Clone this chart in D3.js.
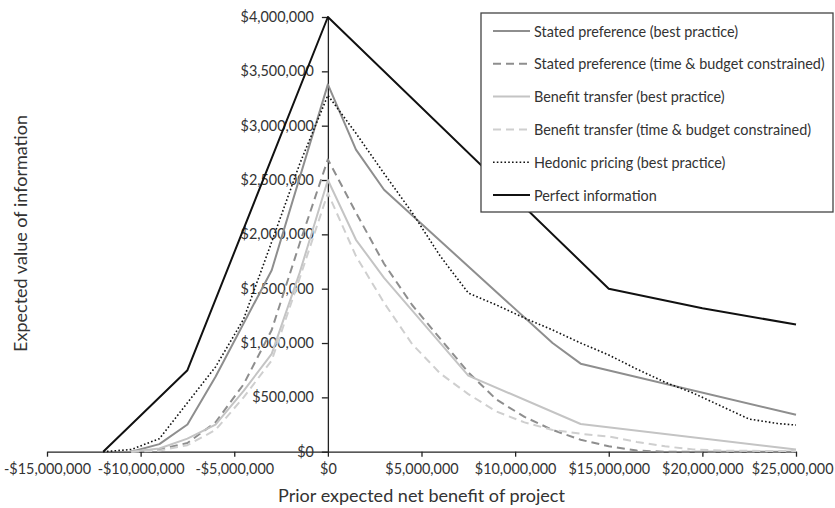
<!DOCTYPE html>
<html>
<head>
<meta charset="utf-8">
<script src="https://cdn.jsdelivr.net/npm/d3@7"></script>
<style>
  body { margin: 0; background: #fff; }
  svg text { font-family: Lato, "Open Sans", sans-serif; fill: #333; }
</style>
</head>
<body>
<div id="canvas"></div>
<script>
"use strict";

/* ---------- size and plot box ---------- */
let svgWidth = 835;
let svgHeight = 508;

let plotLeft = 47;
let plotRight = 796;
let plotTop = 17;
let plotBottom = 451.7;

/* ---------- data (values in $ millions) ---------- */
let xTicks = [-15, -10, -5, 0, 5, 10, 15, 20, 25];
let yTicks = [0, 0.5, 1, 1.5, 2, 2.5, 3, 3.5, 4];

let statedBest = [[-10.5,0],[-9,0.07],[-7.5,0.25],[-6,0.69],[-3,1.67],[0,3.38],
    [1.5,2.78],[3,2.41],[12,1.0],[13.5,0.81],[25,0.34]];

let statedConstrained = [[-10.5,0],[-9,0.02],[-7.5,0.08],[-6,0.27],[-4.5,0.62],[-3,1.12],
    [-1.5,1.92],[0,2.69],[1.5,2.2],[3,1.73],[4.5,1.35],[6,1.04],[7.5,0.73],[9,0.48],
    [10.5,0.32],[12,0.2],[13.5,0.11],[15,0.05],[16.5,0.01],[18,0],[25,0]];

let transferBest = [[-10.5,0],[-9,0.03],[-7.5,0.12],[-6,0.25],[-4.5,0.56],[-3,0.9],
    [-1.5,1.65],[0,2.5],[1.5,1.95],[3,1.6],[7.5,0.7],[13.5,0.255],[25,0.02]];

let transferConstrained = [[-10.5,0],[-9,0.01],[-7.5,0.06],[-6,0.2],[-4.5,0.5],[-3,0.84],
    [-1.5,1.6],[0,2.38],[1.5,1.8],[3,1.37],[4.5,0.99],[6,0.72],[7.5,0.53],[9,0.37],
    [10.5,0.27],[12,0.2],[13.5,0.165],[15,0.14],[16.5,0.09],[18,0.05],[19.5,0.02],
    [21,0.01],[25,0.005]];

let hedonic = [[-12,0],[-10.5,0.02],[-9,0.12],[-7.5,0.45],[-6,0.78],[-4.5,1.22],[-3,1.93],
    [-1.5,2.65],[0,3.28],[1.5,2.93],[3,2.56],[4.5,2.2],[6,1.8],[7.5,1.46],[9,1.35],
    [10.5,1.23],[12,1.12],[13.5,1.0],[15,0.89],[16.5,0.76],[18,0.64],[19.5,0.54],
    [21,0.42],[22.5,0.3],[24,0.26],[25,0.245]];

let perfectInfo = [[-12,0],[-7.5,0.75],[0,4.0],[15,1.5],[20,1.32],[25,1.17]];

let seriesNames = [
    "Stated preference (best practice)",
    "Stated preference (time & budget constrained)",
    "Benefit transfer (best practice)",
    "Benefit transfer (time & budget constrained)",
    "Hedonic pricing (best practice)",
    "Perfect information"
];

/* line styles, same order as names */
let styles = [
    {color: "#8e8e8e", width: 2, dash: null},
    {color: "#8e8e8e", width: 2, dash: "8,5"},
    {color: "#c4c4c4", width: 2, dash: null},
    {color: "#cfcfcf", width: 2, dash: "8,5"},
    {color: "#111111", width: 1.6, dash: "1.6,2.2"},
    {color: "#111111", width: 2, dash: null}
];

let allSeries = [statedBest, statedConstrained, transferBest, transferConstrained, hedonic, perfectInfo];

let tickFont = 14.4;
let titleFont = 18;

/* ---------- svg ---------- */
let svg = d3.select("#canvas")
    .append("svg")
    .attr("width", svgWidth)
    .attr("height", svgHeight);

/* ---------- scales ---------- */
let xScale = d3.scaleLinear()
    .domain([-15, 25])
    .range([plotLeft, plotRight]);

let yScale = d3.scaleLinear()
    .domain([0, 4])
    .range([plotBottom, plotTop]);

function money(v) {
    let n = Math.round(Math.abs(v) * 1e6);
    return (v < 0 ? "-" : "") + "$" + d3.format(",")(n);
}

/* shrink a title so it spans about the same length as in the original */
function fitText(sel, targetLength) {
    let len = sel.node().getComputedTextLength();
    if (len > 0) {
        sel.attr("font-size", titleFont * targetLength / len);
    }
}

/* ---------- axes ---------- */
let xAxis = svg.append("g")
    .attr("transform", "translate(0," + yScale(0) + ")")
    .call(d3.axisBottom(xScale)
        .tickValues(xTicks)
        .tickFormat(money)
        .tickSize(5)
        .tickSizeOuter(0)
        .tickPadding(7));

let yAxis = svg.append("g")
    .attr("transform", "translate(" + xScale(0) + ",0)")
    .call(d3.axisLeft(yScale)
        .tickValues(yTicks)
        .tickFormat(money)
        .tickSize(6)
        .tickSizeOuter(0)
        .tickPadding(8));

[xAxis, yAxis].forEach(function(g) {
    g.selectAll("path, line").attr("stroke", "#222").attr("stroke-width", 1.3);
    g.selectAll("text")
        .attr("font-size", tickFont)
        .attr("fill", "#333")
        .style("font-family", "Lato, 'Open Sans', sans-serif");
});

/* keep the last x label inside the picture */
xAxis.selectAll(".tick text").each(function(d) {
    if (d === xTicks[xTicks.length - 1]) {
        let w = this.getComputedTextLength();
        let over = xScale(d) + w / 2 - (svgWidth - 2);
        if (over > 0) d3.select(this).attr("x", -over);
    }
});

/* ---------- lines ---------- */
let line = d3.line()
    .x(d => xScale(d[0]))
    .y(d => yScale(d[1]));

allSeries.forEach(function(data, i) {
    svg.append("path")
        .datum(data)
        .attr("d", line)
        .attr("fill", "none")
        .attr("stroke", styles[i].color)
        .attr("stroke-width", styles[i].width)
        .attr("stroke-dasharray", styles[i].dash)
        .attr("stroke-linejoin", "round");
});

/* ---------- axis titles ---------- */
let xTitle = svg.append("text")
    .attr("x", 421.5)
    .attr("y", 502)
    .attr("text-anchor", "middle")
    .attr("font-size", titleFont)
    .text("Prior expected net benefit of project");
fitText(xTitle, 287);

let yTitle = svg.append("text")
    .attr("transform", "translate(27,233.5) rotate(-90)")
    .attr("text-anchor", "middle")
    .attr("font-size", titleFont)
    .text("Expected value of information");
fitText(yTitle, 237);

/* ---------- legend ---------- */
let legendX = 481;
let legendY = 13;

svg.append("rect")
    .attr("x", legendX)
    .attr("y", legendY)
    .attr("width", 352)
    .attr("height", 199)
    .attr("fill", "#fff")
    .attr("stroke", "#444")
    .attr("stroke-width", 1.3);

seriesNames.forEach(function(name, i) {
    let y = legendY + 18 + i * 32.8;

    svg.append("line")
        .attr("x1", legendX + 12)
        .attr("x2", legendX + 49)
        .attr("y1", y)
        .attr("y2", y)
        .attr("stroke", styles[i].color)
        .attr("stroke-width", styles[i].width)
        .attr("stroke-dasharray", styles[i].dash);

    svg.append("text")
        .attr("x", legendX + 53)
        .attr("y", y)
        .attr("dominant-baseline", "central")
        .attr("font-size", tickFont)
        .text(name);
});
</script>
</body>
</html>
